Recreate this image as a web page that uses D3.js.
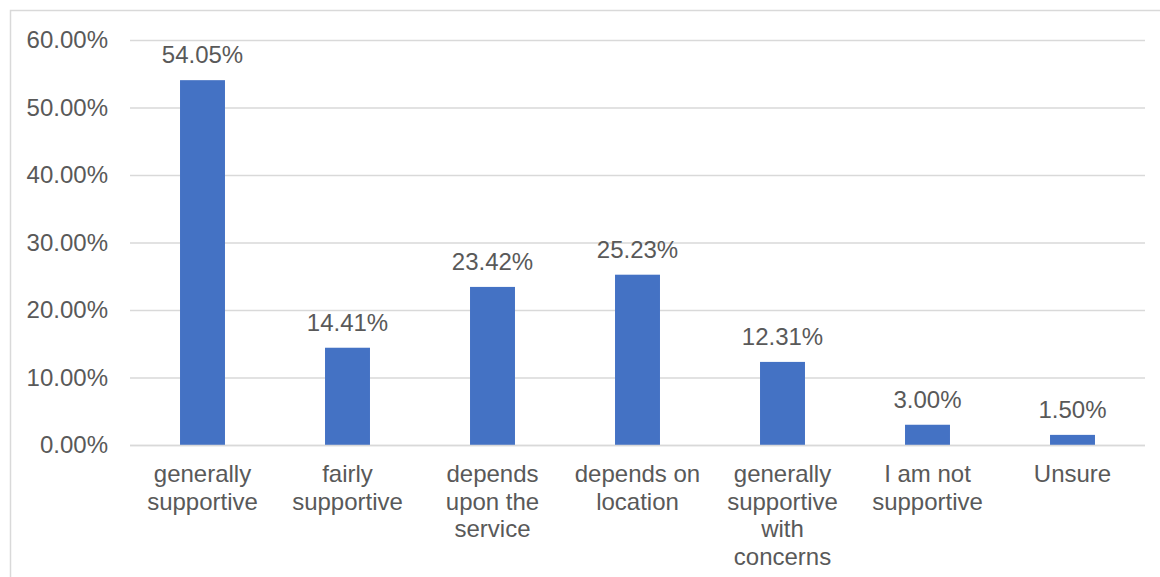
<!DOCTYPE html>
<html>
<head>
<meta charset="utf-8">
<script src="https://cdn.jsdelivr.net/npm/d3@7"></script>
<style>
  html, body { margin: 0; padding: 0; background: #fff; }
  svg text { font-family: "Liberation Sans", Arial, sans-serif; fill: #595959; }
</style>
</head>
<body>
<div id="chart"></div>
<script>
const CATEGORIES = [
  "generally supportive",
  "fairly supportive",
  "depends upon the service",
  "depends on location",
  "generally supportive with concerns",
  "I am not supportive",
  "Unsure",
];
const VALUES = [54.05, 14.41, 23.42, 25.23, 12.31, 3.0, 1.5];
const Y_TICKS = [0, 10, 20, 30, 40, 50, 60];

const WIDTH = 1160;
const HEIGHT = 577;
const MARGIN = { top: 40, right: 15, bottom: 132, left: 130 };
const BAR_COLOR = "#4472c4";
const GRID_COLOR = "#d9d9d9";
const FONT_SIZE = 24;

const innerWidth = WIDTH - MARGIN.left - MARGIN.right;
const innerHeight = HEIGHT - MARGIN.top - MARGIN.bottom;

const svg = d3.select("#chart")
  .append("svg")
  .attr("width", WIDTH)
  .attr("height", HEIGHT);

// chart border (runs off the right and bottom edges)
svg.append("rect")
  .attr("x", 10.5)
  .attr("y", 10.5)
  .attr("width", 1200)
  .attr("height", 600)
  .attr("fill", "none")
  .attr("stroke", GRID_COLOR)
  .attr("stroke-width", 1.5);

const g = svg.append("g")
  .attr("transform", `translate(${MARGIN.left},${MARGIN.top})`);

const x = d3.scaleBand()
  .domain(CATEGORIES)
  .range([0, innerWidth])
  .paddingInner(0.69)
  .paddingOuter(0.345);

const y = d3.scaleLinear()
  .domain([0, 60])
  .range([innerHeight, 0]);

// —— Gridlines & y labels ——
const yAxis = g.append("g")
  .call(d3.axisLeft(y)
    .tickValues(Y_TICKS)
    .tickSize(-innerWidth)
    .tickPadding(22)
    .tickFormat((d) => d3.format(".2f")(d) + "%"));

yAxis.select(".domain").remove();
yAxis.selectAll(".tick line")
  .attr("stroke", GRID_COLOR)
  .attr("stroke-width", 1.5);
yAxis.selectAll(".tick text")
  .attr("font-size", FONT_SIZE)
  .attr("font-family", null);

// —— Bars ——
g.selectAll(".bar")
  .data(VALUES)
  .join("rect")
  .attr("class", "bar")
  .attr("x", (d, i) => x(CATEGORIES[i]))
  .attr("y", (d) => y(d))
  .attr("width", x.bandwidth())
  .attr("height", (d) => innerHeight - y(d))
  .attr("fill", BAR_COLOR);

// baseline axis line drawn over bars
g.append("line")
  .attr("x1", 0)
  .attr("x2", innerWidth)
  .attr("y1", innerHeight + 0.5)
  .attr("y2", innerHeight + 0.5)
  .attr("stroke", GRID_COLOR)
  .attr("stroke-width", 1.5);

// —— Value labels ——
g.selectAll(".value-label")
  .data(VALUES)
  .join("text")
  .attr("class", "value-label")
  .attr("x", (d, i) => x(CATEGORIES[i]) + x.bandwidth() / 2)
  .attr("y", (d) => y(d) - 17)
  .attr("text-anchor", "middle")
  .attr("font-size", FONT_SIZE)
  .text((d) => d3.format(".2f")(d) + "%");

// —— Category labels (wrapped) ——
function wrap(textSel, maxWidth, lineHeight) {
  textSel.each(function (label) {
    const text = d3.select(this);
    const words = label.split(" ");
    const lines = [];
    let line = [];
    let tspan = text.append("tspan");
    for (const w of words) {
      line.push(w);
      tspan.text(line.join(" "));
      if (tspan.node().getComputedTextLength() > maxWidth && line.length > 1) {
        line.pop();
        lines.push(line.join(" "));
        line = [w];
        tspan.text(w);
      }
    }
    lines.push(line.join(" "));
    text.text(null);
    lines.forEach((l, i) => {
      text.append("tspan")
        .attr("x", text.attr("x"))
        .attr("dy", i === 0 ? 0 : lineHeight)
        .text(l);
    });
  });
}

g.selectAll(".cat-label")
  .data(CATEGORIES)
  .join("text")
  .attr("class", "cat-label")
  .attr("x", (d) => x(d) + x.bandwidth() / 2)
  .attr("y", innerHeight + 37)
  .attr("text-anchor", "middle")
  .attr("font-size", FONT_SIZE)
  .text((d) => d)
  .call(wrap, 135, 27.5);
</script>
</body>
</html>
